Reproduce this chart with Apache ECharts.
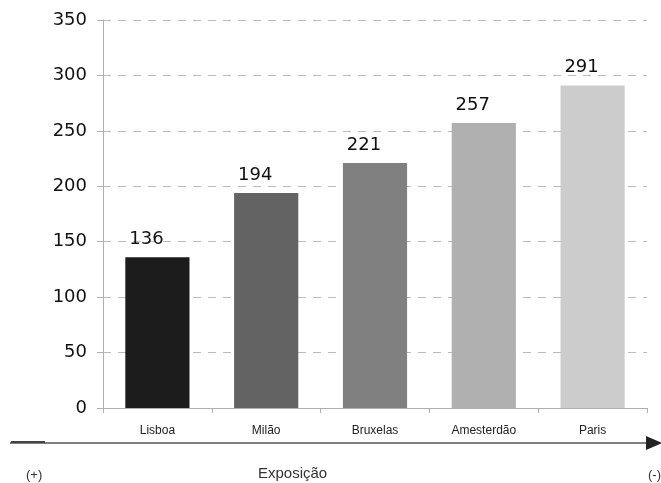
<!DOCTYPE html>
<html>
<head>
<meta charset="utf-8">
<script src="https://cdn.jsdelivr.net/npm/echarts@6/dist/echarts.min.js"></script>
<style>
  html, body { margin: 0; padding: 0; background: #fff; }
  #chart { width: 661px; height: 483px; }
</style>
</head>
<body>
<div id="chart"></div>
<script>
var cities = ['Lisboa', 'Milão', 'Bruxelas', 'Amesterdão', 'Paris'];
var values = [136, 194, 221, 257, 291];
var barColors = ['#1c1c1c', '#636363', '#808080', '#b0b0b0', '#cccccc'];

var myChart = echarts.init(document.getElementById('chart'));

var option = {
    animation: false,
    grid: { left: 103, right: 14, top: 20, bottom: 75 },
    xAxis: {
        type: 'category',
        data: cities,
        axisLine: { lineStyle: { color: '#b0b0b0' } },
        axisTick: { show: true, length: 5, lineStyle: { color: '#b0b0b0' } },
        axisLabel: { color: '#222', fontFamily: 'Liberation Sans', fontSize: 12, margin: 17 }
    },
    yAxis: {
        type: 'value',
        min: 0, max: 350, interval: 50,
        axisLine: { show: true, lineStyle: { color: '#b0b0b0' } },
        axisTick: { show: true, length: 6, inside: false, lineStyle: { color: '#b0b0b0' } },
        axisLabel: { color: '#111', fontFamily: 'DejaVu Sans', fontSize: 18, margin: 16 },
        splitLine: { lineStyle: { color: '#bbbbbb', type: [8, 7] } }
    },
    series: [{
        type: 'bar',
        barWidth: '59%',
        data: values.map(function (v, i) {
            return { value: v, itemStyle: { color: barColors[i] } };
        }),
        label: {
            show: true, position: 'top', distance: 9, offset: [-11, 0],
            color: '#111', fontFamily: 'DejaVu Sans', fontSize: 18
        }
    }],
    graphic: [
        { type: 'line', shape: { x1: 10, y1: 443, x2: 648, y2: 443 }, style: { stroke: '#555', lineWidth: 1.5 } },
        { type: 'line', shape: { x1: 11, y1: 442, x2: 45, y2: 442 }, style: { stroke: '#444', lineWidth: 2 } },
        { type: 'polygon', shape: { points: [[646, 436], [662, 443], [646, 450]] }, style: { fill: '#222' } },
        { type: 'text', left: 26, top: 469, style: { text: '(+)', font: '13px "Liberation Sans"', fill: '#333' } },
        { type: 'text', left: 258, top: 466, style: { text: 'Exposição', font: '15px "Liberation Sans"', fill: '#333' } },
        { type: 'text', left: 648, top: 469, style: { text: '(-)', font: '13px "Liberation Sans"', fill: '#333' } }
    ]
};
myChart.setOption(option);
</script>
</body>
</html>
